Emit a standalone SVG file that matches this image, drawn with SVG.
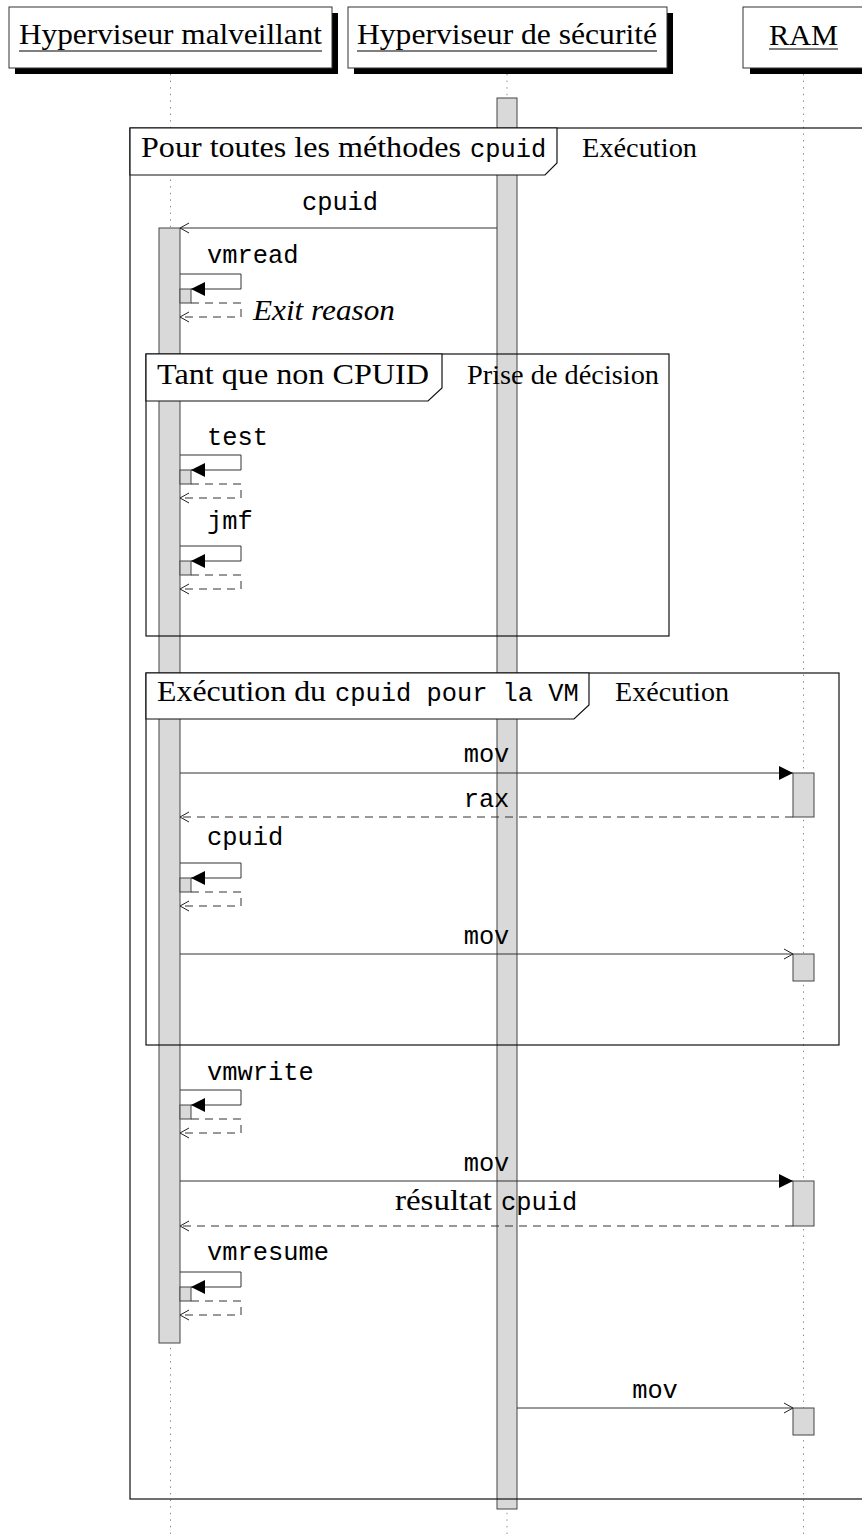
<svg xmlns="http://www.w3.org/2000/svg" width="862" height="1539" viewBox="0 0 862 1539">
<style>
.bg{fill:#fff}
.shadow{fill:#000}
.hbox{fill:#fff;stroke:#333;stroke-width:1}
.ser{font-family:"Liberation Serif",serif;font-size:30px;fill:#000}
.sub{font-family:"Liberation Serif",serif;font-size:27px;fill:#000}
.ita{font-family:"Liberation Serif",serif;font-size:30px;font-style:italic;fill:#000}
.mono{font-family:"Liberation Mono",monospace;font-size:25.4px;fill:#000}
.ul{stroke:#000;stroke-width:1.2}
.life{stroke:#888;stroke-width:1;stroke-dasharray:1.4 5.2;fill:none}
.bar{fill:#d9d9d9;stroke:#444;stroke-width:1}
.frame{fill:none;stroke:#111;stroke-width:1.2}
.flabel{fill:#fff;stroke:#111;stroke-width:1.2}
.msg{fill:none;stroke:#333;stroke-width:1}
.ret{fill:none;stroke:#333;stroke-width:1;stroke-dasharray:8 6}
</style>
<defs>
<marker id="open" markerUnits="userSpaceOnUse" markerWidth="12" markerHeight="12" refX="10" refY="6" orient="auto">
<path d="M1,1 L10,6 L1,11" fill="none" stroke="#222" stroke-width="1"/>
</marker>
<marker id="fill" markerUnits="userSpaceOnUse" markerWidth="15" markerHeight="15" refX="14" refY="7" orient="auto">
<path d="M0,0 L14,7 L0,14 Z" fill="#000"/>
</marker>
</defs>
<rect class="bg" x="0" y="0" width="862" height="1539"/>

<g id="lifelines">
<line class="life" x1="170.5" y1="74" x2="170.5" y2="1539"/>
<line class="life" x1="507" y1="74" x2="507" y2="1539"/>
<line class="life" x1="803.5" y1="74" x2="803.5" y2="1539"/>
</g>

<g id="node-malveillant">
<rect class="shadow" x="15" y="13" width="323" height="61"/>
<rect class="hbox" x="9" y="7" width="323" height="61"/>
<text class="ser" x="19" y="43.5" textLength="303" lengthAdjust="spacingAndGlyphs">Hyperviseur malveillant</text>
<line class="ul" x1="19" y1="51" x2="322" y2="51"/>
</g>
<g id="node-securite">
<rect class="shadow" x="354" y="13" width="319" height="61"/>
<rect class="hbox" x="348" y="7" width="319" height="61"/>
<text class="ser" x="357" y="43.5" textLength="300" lengthAdjust="spacingAndGlyphs">Hyperviseur de sécurité</text>
<line class="ul" x1="357" y1="51" x2="657" y2="51"/>
</g>
<g id="node-ram">
<rect class="shadow" x="750" y="13" width="120" height="61"/>
<rect class="hbox" x="743" y="7" width="120" height="61"/>
<text class="ser" x="769" y="45" textLength="69" lengthAdjust="spacingAndGlyphs">RAM</text>
<line class="ul" x1="769" y1="49" x2="838" y2="49"/>
</g>

<g id="activations">
<rect class="bar" x="497" y="98" width="20" height="1411"/>
<rect class="bar" x="159" y="228" width="21" height="1115"/>
<rect class="bar" x="793" y="773" width="21" height="44"/>
<rect class="bar" x="793" y="954" width="21" height="27"/>
<rect class="bar" x="793" y="1181" width="21" height="45"/>
<rect class="bar" x="793" y="1408" width="21" height="27"/>
<rect class="bar" x="180" y="289" width="11" height="14"/>
<rect class="bar" x="180" y="470" width="11" height="14"/>
<rect class="bar" x="180" y="561" width="11" height="14"/>
<rect class="bar" x="180" y="878" width="11" height="14"/>
<rect class="bar" x="180" y="1105" width="11" height="14"/>
<rect class="bar" x="180" y="1287" width="11" height="14"/>
</g>

<g id="frame-outer">
<rect class="frame" x="130" y="128" width="770" height="1371"/>
<path class="flabel" d="M130,128 H557 V163 L545,175 H130 Z"/>
<text x="141" y="157"><tspan class="ser" textLength="320" lengthAdjust="spacingAndGlyphs">Pour toutes les méthodes</tspan></text>
<text class="mono" x="470" y="157">cpuid</text>
<text class="sub" x="582" y="157" textLength="115" lengthAdjust="spacingAndGlyphs">Exécution</text>
</g>

<g id="frame-tantque">
<rect class="frame" x="146" y="354" width="523" height="282"/>
<path class="flabel" d="M146,354 H442 V388 L428,401 H146 Z"/>
<text class="ser" x="157" y="384" textLength="272" lengthAdjust="spacingAndGlyphs">Tant que non CPUID</text>
<text class="sub" x="467" y="384" textLength="192" lengthAdjust="spacingAndGlyphs">Prise de décision</text>
</g>

<g id="frame-exec">
<rect class="frame" x="146" y="673" width="693" height="372"/>
<path class="flabel" d="M146,673 H589 V705 L574,719 H146 Z"/>
<text class="ser" x="157" y="701" textLength="169" lengthAdjust="spacingAndGlyphs">Exécution du</text>
<text class="mono" x="335" y="701">cpuid pour la VM</text>
<text class="sub" x="615" y="701" textLength="114" lengthAdjust="spacingAndGlyphs">Exécution</text>
</g>

<g id="connectors">
<path class="msg" d="M497,228 H180" marker-end="url(#open)"/>
<path class="msg" d="M180,274 H241 V289 H191" marker-end="url(#fill)"/>
<path class="ret" d="M191,303 H241 V317 H180" marker-end="url(#open)"/>
<path class="msg" d="M180,455 H241 V470 H191" marker-end="url(#fill)"/>
<path class="ret" d="M191,484 H241 V498 H180" marker-end="url(#open)"/>
<path class="msg" d="M180,546 H241 V561 H191" marker-end="url(#fill)"/>
<path class="ret" d="M191,575 H241 V589 H180" marker-end="url(#open)"/>
<path class="msg" d="M180,773 H793" marker-end="url(#fill)"/>
<path class="ret" d="M793,817 H180" marker-end="url(#open)"/>
<path class="msg" d="M180,863 H241 V878 H191" marker-end="url(#fill)"/>
<path class="ret" d="M191,892 H241 V906 H180" marker-end="url(#open)"/>
<path class="msg" d="M180,954 H793" marker-end="url(#open)"/>
<path class="msg" d="M180,1090 H241 V1105 H191" marker-end="url(#fill)"/>
<path class="ret" d="M191,1119 H241 V1133 H180" marker-end="url(#open)"/>
<path class="msg" d="M180,1181 H793" marker-end="url(#fill)"/>
<path class="ret" d="M793,1226 H180" marker-end="url(#open)"/>
<path class="msg" d="M180,1272 H241 V1287 H191" marker-end="url(#fill)"/>
<path class="ret" d="M191,1301 H241 V1315 H180" marker-end="url(#open)"/>
<path class="msg" d="M517,1408 H793" marker-end="url(#open)"/>
</g>

<g id="labels">
<text class="mono" x="340" y="210" text-anchor="middle">cpuid</text>
<text class="mono" x="207" y="263">vmread</text>
<text class="ita" x="253" y="320" textLength="142" lengthAdjust="spacingAndGlyphs">Exit reason</text>
<text class="mono" x="207" y="445">test</text>
<text class="mono" x="207" y="529">jmf</text>
<text class="mono" x="486.5" y="762" text-anchor="middle">mov</text>
<text class="mono" x="486.5" y="807" text-anchor="middle">rax</text>
<text class="mono" x="207" y="845">cpuid</text>
<text class="mono" x="486.5" y="944" text-anchor="middle">mov</text>
<text class="mono" x="207" y="1080">vmwrite</text>
<text class="mono" x="486.5" y="1171" text-anchor="middle">mov</text>
<text class="ser" x="395" y="1210" textLength="97" lengthAdjust="spacingAndGlyphs">résultat</text>
<text class="mono" x="501" y="1210">cpuid</text>
<text class="mono" x="207" y="1260">vmresume</text>
<text class="mono" x="655" y="1398" text-anchor="middle">mov</text>
</g>
</svg>
